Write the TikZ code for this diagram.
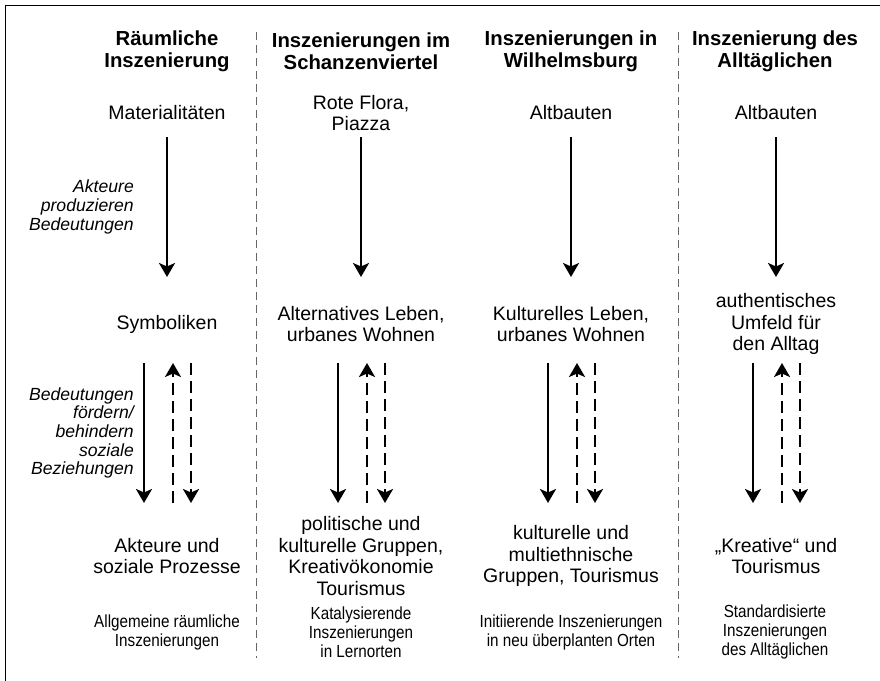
\documentclass[tikz,border=0pt]{standalone}
\usepackage{fontspec}
\setmainfont{Liberation Sans}
\newfontfamily\schmal[FakeStretch=0.87]{Liberation Sans}
\usetikzlibrary{arrows.meta}

\tikzset{
    titel/.style={font=\bfseries\fontsize{20.3}{22}\selectfont, align=center, inner sep=0pt},
    ebene/.style={font=\fontsize{19.5}{21.5}\selectfont, align=center, inner sep=0pt},
    erkl/.style={font=\itshape\fontsize{17.6}{18.7}\selectfont, align=right, anchor=east, inner sep=0pt},
    typ/.style={font=\schmal\fontsize{17.5}{19}\selectfont, align=center, inner sep=0pt},
    pfeil/.style={line width=2.3pt, -{Stealth[length=14pt,width=16pt,inset=3.5pt]}},
    strich/.style={pfeil, dash pattern=on 12pt off 6pt},
    trenner/.style={black!60, line width=0.9pt, dash pattern=on 8pt off 5pt},
}

\begin{document}
\begin{tikzpicture}[x=1pt, y=-1pt]
    \useasboundingbox (0,0) rectangle (880,680);
    \clip (0,0) rectangle (880,680);
    \draw[line width=1.5pt] (5.5,690) -- (5.5,5.5) -- (890,5.5);
    \draw[trenner] (256,32) -- (256,658);
    \draw[trenner] (678,32) -- (678,658);

    % Spaltenköpfe
    \node[titel] (t1) at (167,51) {Räumliche\\Inszenierung};
    \node[titel] (t2) at (361,51) {Inszenierungen im\\Schanzenviertel};
    \node[titel] (t3) at (571,51) {Inszenierungen in\\Wilhelmsburg};
    \node[titel] (t4) at (775,51) {Inszenierung des\\Alltäglichen};

    % Materialitäten
    \node[ebene] (m1) at (167,113) {Materialitäten};
    \node[ebene] (m2) at (361,113) {Rote Flora,\\Piazza};
    \node[ebene] (m3) at (571,113) {Altbauten};
    \node[ebene] (m4) at (776,113) {Altbauten};

    % Symboliken
    \node[ebene] (s1) at (167,324) {Symboliken};
    \node[ebene] (s2) at (361,324) {Alternatives Leben,\\urbanes Wohnen};
    \node[ebene] (s3) at (571,324) {Kulturelles Leben,\\urbanes Wohnen};
    \node[ebene] (s4) at (776,324) {authentisches\\Umfeld für\\den Alltag};

    % Akteure
    \node[ebene] (a1) at (167,556) {Akteure und\\soziale Prozesse};
    \node[ebene] (a2) at (361,556) {politische und\\kulturelle Gruppen,\\Kreativökonomie\\Tourismus};
    \node[ebene] (a3) at (571,556) {kulturelle und\\multiethnische\\Gruppen, Tourismus};
    \node[ebene] (a4) at (776,556) {„Kreative“ und\\Tourismus};

    % Typen
    \node[typ] (b1) at (167,632) {Allgemeine räumliche\\Inszenierungen};
    \node[typ] (b2) at (361,632) {Katalysierende\\Inszenierungen\\in Lernorten};
    \node[typ] (b3) at (571,632) {Initiierende Inszenierungen\\in neu überplanten Orten};
    \node[typ] (b4) at (775,632) {Standardisierte\\Inszenierungen\\des Alltäglichen};

    \node[erkl] (e1) at (134,207) {Akteure\\produzieren\\Bedeutungen};
    \node[erkl] (e2) at (134,433) {Bedeutungen\\fördern/\\behindern\\soziale\\Beziehungen};

    \draw[pfeil] ([yshift=-24pt]m1.center) -- ([yshift=47pt]s1.center);
    \draw[pfeil] ([yshift=-24pt]m2.center) -- ([yshift=47pt]s2.center);
    \draw[pfeil] ([yshift=-24pt]m3.center) -- ([yshift=47pt]s3.center);
    \draw[pfeil] ([yshift=-24pt]m4.center) -- ([yshift=47pt]s4.center);

    \draw[pfeil] ([xshift=-23pt,yshift=-39pt]s1.center) -- ([xshift=-23pt,yshift=53pt]a1.center);
    \draw[strich] ([xshift=6pt,yshift=53pt]a1.center) -- ([xshift=6pt,yshift=-39pt]s1.center);
    \draw[strich] ([xshift=24pt,yshift=-39pt]s1.center) -- ([xshift=24pt,yshift=53pt]a1.center);

    \draw[pfeil] ([xshift=-23pt,yshift=-39pt]s2.center) -- ([xshift=-23pt,yshift=53pt]a2.center);
    \draw[strich] ([xshift=6pt,yshift=53pt]a2.center) -- ([xshift=6pt,yshift=-39pt]s2.center);
    \draw[strich] ([xshift=24pt,yshift=-39pt]s2.center) -- ([xshift=24pt,yshift=53pt]a2.center);

    \draw[pfeil] ([xshift=-23pt,yshift=-39pt]s3.center) -- ([xshift=-23pt,yshift=53pt]a3.center);
    \draw[strich] ([xshift=6pt,yshift=53pt]a3.center) -- ([xshift=6pt,yshift=-39pt]s3.center);
    \draw[strich] ([xshift=24pt,yshift=-39pt]s3.center) -- ([xshift=24pt,yshift=53pt]a3.center);

    \draw[pfeil] ([xshift=-23pt,yshift=-39pt]s4.center) -- ([xshift=-23pt,yshift=53pt]a4.center);
    \draw[strich] ([xshift=6pt,yshift=53pt]a4.center) -- ([xshift=6pt,yshift=-39pt]s4.center);
    \draw[strich] ([xshift=24pt,yshift=-39pt]s4.center) -- ([xshift=24pt,yshift=53pt]a4.center);
\end{tikzpicture}
\end{document}
